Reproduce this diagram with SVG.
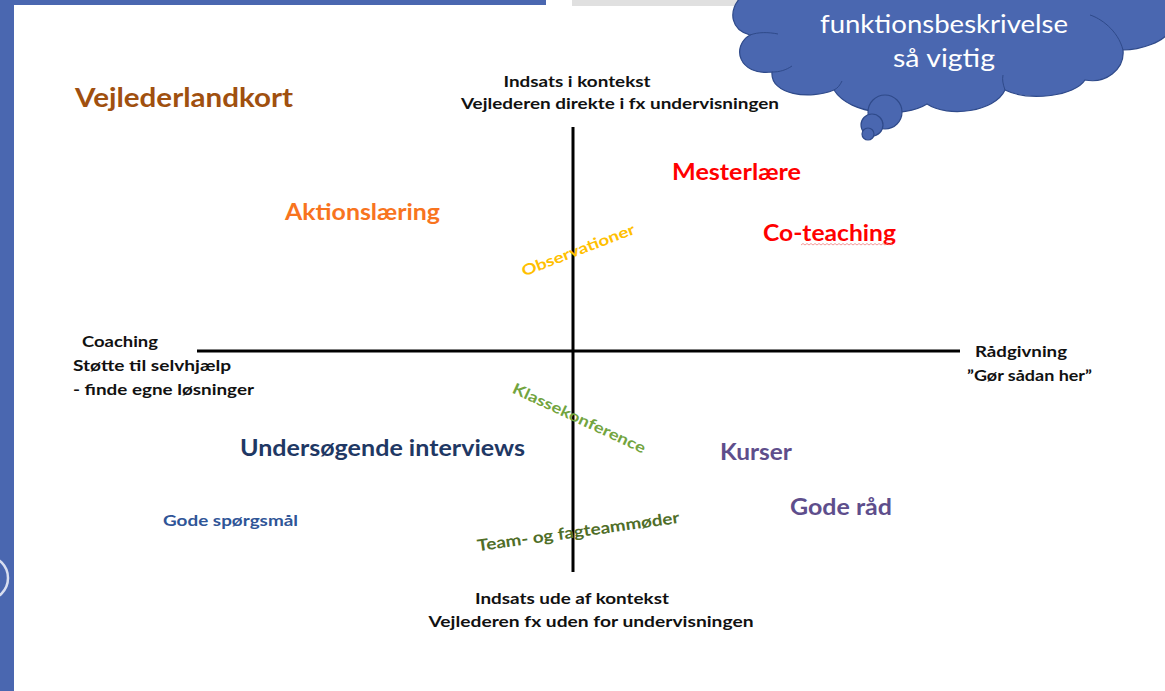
<svg xmlns="http://www.w3.org/2000/svg" width="1165" height="691" viewBox="0 0 1165 691">
<style>
.t{font-family:Lato,"Open Sans","Liberation Sans",sans-serif;font-weight:bold}
.k{font-size:15.5px;fill:#111}
.big{font-size:22px}
.axis{stroke:#000;stroke-width:3;fill:none}
.cloud{fill:#4A67B0;stroke:#2F4A8A;stroke-width:1.2}
.ct{font-family:Lato,"Open Sans","Liberation Sans",sans-serif;font-size:25px;fill:#fff;text-anchor:middle}
</style>
<rect width="1165" height="691" fill="#fff"/>
<rect x="0" y="0" width="14" height="691" fill="#4A67B0"/>
<rect x="0" y="0" width="546" height="5" fill="#4A67B0"/>
<rect x="572" y="0" width="170" height="6" fill="#E0E0E0"/>
<circle cx="-14" cy="578" r="22" fill="none" stroke="#D8DEF0" stroke-width="2.5"/>

<g id="cloud">
<path class="cloud" d="M740 -2 C728 12 731 30 750 35 C731 46 738 76 772 72 C770 95 810 100 834 90 C850 116 905 118 927 104 C948 118 995 112 1005 90 C1030 102 1075 96 1085 80 C1105 84 1125 70 1123 50 C1140 50 1165 42 1170 30 L1170 -2 Z"/>
<path d="M750 35 C758 32 768 32 778 34 M772 72 C780 72 786 70 792 66 M834 90 C838 88 840 85 842 81 M1005 90 C1003 84 1002 80 1003 75 M1123 50 C1118 30 1100 18 1090 15" fill="none" stroke="#2F4A8A" stroke-width="1"/>
<circle class="cloud" cx="885" cy="112" r="17"/>
<circle class="cloud" cx="872" cy="125" r="11"/>
<circle class="cloud" cx="868" cy="134" r="6"/>
<text class="ct" x="944" y="33" textLength="248" lengthAdjust="spacingAndGlyphs">funktionsbeskrivelse</text>
<text class="ct" x="944" y="67" textLength="102" lengthAdjust="spacingAndGlyphs">så vigtig</text>
</g>

<g id="connectors">
<line class="axis" x1="573" y1="127" x2="573" y2="572"/>
<line class="axis" x1="197" y1="351" x2="960" y2="351"/>
</g>

<g id="title"><text class="t" x="75" y="107" font-size="26" fill="#A0500F" textLength="218" lengthAdjust="spacingAndGlyphs">Vejlederlandkort</text></g>

<g id="top-label">
<text class="t k" x="577" y="87" text-anchor="middle" textLength="147" lengthAdjust="spacingAndGlyphs">Indsats i kontekst</text>
<text class="t k" x="620" y="109" text-anchor="middle" textLength="318" lengthAdjust="spacingAndGlyphs">Vejlederen direkte i fx undervisningen</text>
</g>
<g id="bottom-label">
<text class="t k" x="572" y="604" text-anchor="middle" textLength="194" lengthAdjust="spacingAndGlyphs">Indsats ude af kontekst</text>
<text class="t k" x="591" y="627" text-anchor="middle" textLength="325" lengthAdjust="spacingAndGlyphs">Vejlederen  fx uden for undervisningen</text>
</g>
<g id="left-label">
<text class="t k" x="82" y="347" textLength="76" lengthAdjust="spacingAndGlyphs">Coaching</text>
<text class="t k" x="73" y="371" textLength="158" lengthAdjust="spacingAndGlyphs">Støtte til selvhjælp</text>
<text class="t k" x="73" y="395" textLength="181" lengthAdjust="spacingAndGlyphs">- finde egne løsninger</text>
</g>
<g id="right-label">
<text class="t k" x="975" y="357" textLength="92" lengthAdjust="spacingAndGlyphs">Rådgivning</text>
<text class="t k" x="967" y="381" textLength="125" lengthAdjust="spacingAndGlyphs">”Gør sådan her”</text>
</g>

<g id="mesterlaere"><text class="t big" x="672" y="180" fill="#FF0000" textLength="129" lengthAdjust="spacingAndGlyphs">Mesterlære</text></g>
<g id="coteaching">
<text class="t big" x="763" y="241" fill="#FF0000" textLength="133" lengthAdjust="spacingAndGlyphs">Co-teaching</text>
<path d="M801 245 l2 -1.5 l2 1.5 l2 -1.5 l2 1.5 l2 -1.5 l2 1.5 l2 -1.5 l2 1.5 l2 -1.5 l2 1.5 l2 -1.5 l2 1.5 l2 -1.5 l2 1.5 l2 -1.5 l2 1.5 l2 -1.5 l2 1.5 l2 -1.5 l2 1.5 l2 -1.5 l2 1.5 l2 -1.5 l2 1.5 l2 -1.5 l2 1.5 l2 -1.5 l2 1.5 l2 -1.5 l2 1.5 l2 -1.5 l2 1.5 l2 -1.5 l2 1.5 l2 -1.5 l2 1.5 l2 -1.5 l2 1.5 l2 -1.5 l2 1.5 l2 -1.5 l2 1.5 l2 -1.5 l2 1.5 l2 -1.5 l2 1.5" fill="none" stroke="#F08080" stroke-width="0.8"/>
</g>
<g id="aktionslaering"><text class="t big" x="285" y="220" fill="#F8741E" textLength="155" lengthAdjust="spacingAndGlyphs">Aktionslæring</text></g>
<g id="observationer"><text class="t" font-size="15" fill="#FFC000" text-anchor="middle" transform="translate(580 255) rotate(-21)" textLength="120" lengthAdjust="spacingAndGlyphs">Observationer</text></g>
<g id="klassekonference"><text class="t" font-size="15" fill="#72A43E" text-anchor="middle" transform="translate(577 423) rotate(25)" textLength="145" lengthAdjust="spacingAndGlyphs">Klassekonference</text></g>
<g id="undersoegende"><text class="t big" x="240" y="456" fill="#1F3864" textLength="285" lengthAdjust="spacingAndGlyphs">Undersøgende interviews</text></g>
<g id="kurser"><text class="t big" x="720" y="460" fill="#5E4E8C" textLength="72" lengthAdjust="spacingAndGlyphs">Kurser</text></g>
<g id="gode-raad"><text class="t big" x="790" y="515" fill="#5E4E8C" textLength="102" lengthAdjust="spacingAndGlyphs">Gode råd</text></g>
<g id="gode-spoergsmaal"><text class="t" font-size="15" x="163" y="526" fill="#2F5597" textLength="135" lengthAdjust="spacingAndGlyphs">Gode spørgsmål</text></g>
<g id="team"><text class="t" font-size="16" fill="#4F6E28" text-anchor="middle" transform="translate(579 537) rotate(-8)" textLength="204" lengthAdjust="spacingAndGlyphs">Team- og fagteammøder</text></g>
</svg>
